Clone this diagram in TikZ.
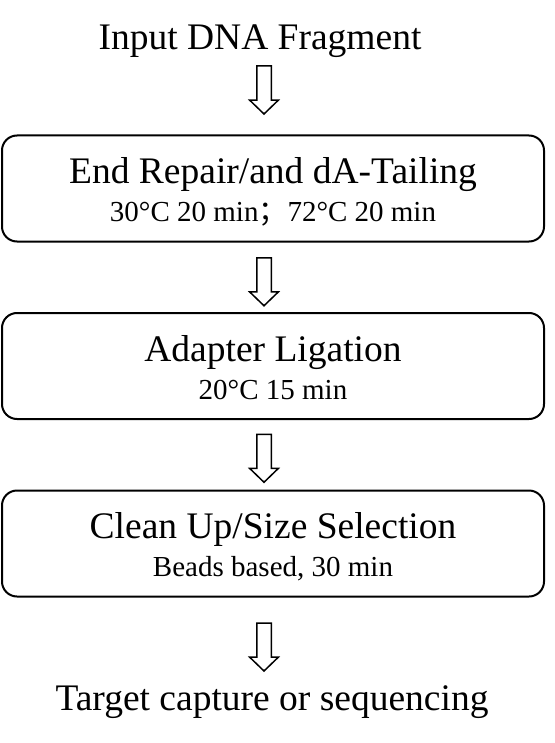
\documentclass[tikz,border=0pt]{standalone}
\usepackage{fontspec}
\setmainfont{Liberation Serif}
\newfontfamily\cjk{Noto Sans CJK SC}
\usepackage{tikz}
\usetikzlibrary{arrows.meta,positioning,calc,shapes.arrows}

\begin{document}
\begin{tikzpicture}[
  x=1pt, y=-1pt,
  stepbox/.style={draw, line width=2pt, rounded corners=15pt, minimum width=542pt, minimum height=106pt, inner sep=0pt},
  title/.style={anchor=base, inner sep=0pt, font=\fontsize{37.5}{40}\selectfont},
  sub/.style={anchor=base, inner sep=0pt, font=\fontsize{29}{32}\selectfont},
  downarr/.style={draw, line width=1.5pt, single arrow, rotate=-90, minimum height=48pt, minimum width=27pt, inner sep=6.5pt, single arrow head extend=7pt, single arrow tip angle=92, fill=white}
]
  \useasboundingbox (0,0) rectangle (554,743);

  \node[title] (input) at (260,50) {Input DNA Fragment};

  \node[stepbox] (repair) at (273,188.5) {};
  \node[title] (repairT) at ($(repair.north)+(0,49)$) {End Repair/and dA-Tailing};
  \node[sub] (repairS) at ($(repair.north)+(0,87)$) {30°C 20 min{\cjk ；}72°C 20 min};

  \node[stepbox] (ligation) at (273,366) {};
  \node[title] (ligationT) at ($(ligation.north)+(0,49)$) {Adapter Ligation};
  \node[sub] (ligationS) at ($(ligation.north)+(0,87)$) {20°C 15 min};

  \node[stepbox] (cleanup) at (273,543.5) {};
  \node[title] (cleanupT) at ($(cleanup.north)+(0,49)$) {Clean Up/Size Selection};
  \node[sub] (cleanupS) at ($(cleanup.north)+(0,87)$) {Beads based, 30 min};

  \node[title] (target) at (272,710) {Target capture or sequencing};

  % block arrows between the steps
  \node[downarr] (a1) at ($(repair.north)+(-9,-48)$) {};
  \node[downarr] (a2) at ($(repair.south)!0.5!(ligation.north)+(-9,1)$) {};
  \node[downarr] (a3) at ($(ligation.south)!0.5!(cleanup.north)+(-9,0)$) {};
  \node[downarr] (a4) at ($(cleanup.south)+(-9,46)$) {};
\end{tikzpicture}
\end{document}
